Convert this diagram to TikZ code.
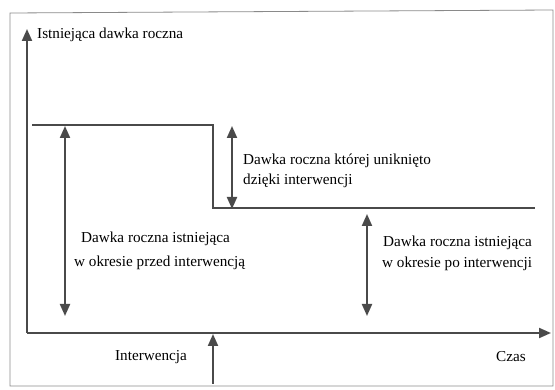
\documentclass[tikz,border=0pt]{standalone}
\usepackage{fontspec}
\setmainfont{Liberation Serif}
\usetikzlibrary{arrows.meta}
\definecolor{ink}{HTML}{4A4A4A}
\definecolor{frame}{HTML}{8A8A8A}
\begin{document}
\begin{tikzpicture}[x=1pt,y=-1pt,
  line/.style={draw=ink, line width=2pt},
  tipend/.style={-{Triangle[length=12pt,width=10pt]}},
  twoway/.style={{Triangle[length=12pt,width=10pt]}-{Triangle[length=12pt,width=10pt]}},
  lbl/.style={font=\fontsize{15.2}{18}\selectfont, text=black, inner sep=0pt, anchor=west}]
\useasboundingbox (0,0) rectangle (555,390);
% outer frame
\draw[frame, line width=0.8pt] (10,13) -- (553,10) -- (553,386) -- (10,386) -- cycle;

% axes
\coordinate (O) at (27,333);
\coordinate (ytop) at (27,29);
\coordinate (xend) at (551,333);
\draw[line, tipend] (O) -- (ytop);
\draw[line, tipend] (O) -- (xend);

% dose level before and after the intervention
\coordinate (lvA) at (32,125);
\coordinate (lvB) at (213,125);
\coordinate (lvC) at (213,208);
\coordinate (lvD) at (535,208);
\draw[line] (lvA) -- (lvB) -- (lvC) -- (lvD);

% measuring arrows
\coordinate (bTop) at (65,126);
\coordinate (bBot) at (65,316);
\draw[line, twoway] (bTop) -- (bBot);
\coordinate (aTop) at (232,126);
\coordinate (aBot) at (232,209);
\draw[line, twoway] (aTop) -- (aBot);
\coordinate (pTop) at (367,214);
\coordinate (pBot) at (367,316);
\draw[line, twoway] (pTop) -- (pBot);

% intervention marker
\coordinate (iLow) at (213,384);
\coordinate (iTip) at (213,334);
\draw[line, tipend] (iLow) -- (iTip);

% labels
\node[lbl] (ylab) at (37,35) {Istniejąca dawka roczna};
\node[lbl] (avoid1) at (243,161) {Dawka roczna której uniknięto};
\node[lbl] (avoid2) at (243,181) {dzięki interwencji};
\node[lbl] (before1) at (81,239) {Dawka roczna istniejąca};
\node[lbl] (before2) at (74,263) {w okresie przed interwencją};
\node[lbl] (after1) at (383,243) {Dawka roczna istniejąca};
\node[lbl] (after2) at (382,264) {w okresie po interwencji};
\node[lbl, anchor=center] (interv) at (151,357) {Interwencja};
\node[lbl, anchor=center] (czas) at (511,357) {Czas};
\end{tikzpicture}
\end{document}
